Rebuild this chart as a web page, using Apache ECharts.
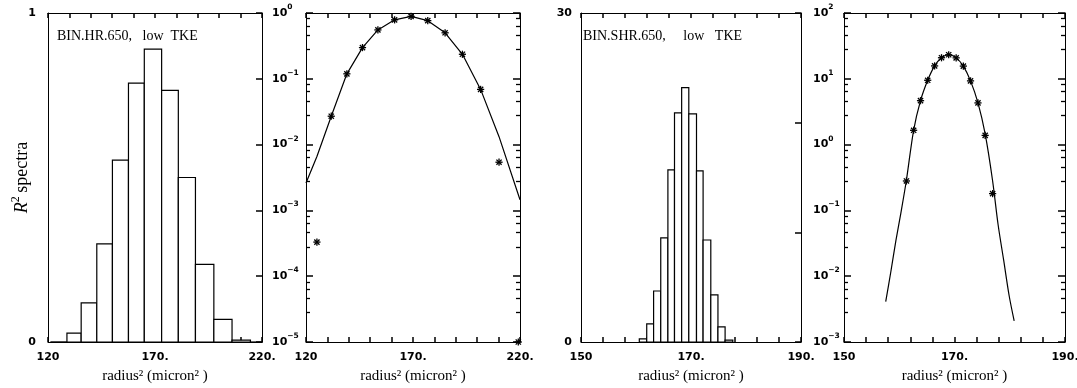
<!DOCTYPE html>
<html><head><meta charset="utf-8">
<script src="https://cdn.jsdelivr.net/npm/echarts@6/dist/echarts.min.js"></script>
<style>html,body{margin:0;padding:0;background:#fff}#c{width:1077px;height:388px}</style>
</head><body><div id="c"></div>
<script>
// ---------- DATA ----------
// BIN.HR.650 : histogram bin edges (radius^2) and normalized spectrum values
const hrEdges   = [121.4, 128.85, 135.5, 142.8, 150.1, 157.6, 165.0, 173.1, 180.9, 188.9, 197.5, 206.0, 214.6, 223.8];
const hrValues  = [0.00033, 0.027, 0.119, 0.298, 0.553, 0.787, 0.89, 0.765, 0.50, 0.236, 0.069, 0.0054, 0.00001];
const hrCenters = [125.1, 131.8, 139.1, 146.4, 153.6, 161.4, 169.1, 176.9, 185.0, 193.1, 201.6, 210.2, 219.2];
const hrCurveX  = [120, 125.1, 131.8, 139.1, 146.4, 153.6, 161.4, 169.1, 176.9, 185.0, 193.1, 201.6, 210.2, 220];
const hrCurveY  = [0.0026, 0.0066, 0.027, 0.119, 0.298, 0.553, 0.787, 0.89, 0.765, 0.50, 0.236, 0.069, 0.0132, 0.00145];

// BIN.SHR.650
const shrEdges   = [160.6, 161.95, 163.2, 164.5, 165.8, 167.0, 168.3, 169.6, 171.0, 172.2, 173.6, 174.9, 176.2, 177.6];
const shrValues  = [0.28, 1.65, 4.65, 9.5, 15.7, 20.9, 23.2, 20.8, 15.6, 9.3, 4.3, 1.38, 0.18];
const shrCenters = [161.3, 162.6, 163.85, 165.15, 166.4, 167.65, 168.95, 170.3, 171.6, 172.9, 174.25, 175.55, 176.9];
const shrCurveX  = [157.55, 158.5, 159.4, 160.3, 161.3, 162.6, 163.85, 165.15, 166.4, 167.65, 168.95, 170.3, 171.6, 172.9, 174.25, 175.55, 176.9, 177.9, 178.9, 179.9, 180.8];
const shrCurveY  = [0.0041, 0.012, 0.035, 0.092, 0.29, 1.65, 4.65, 9.5, 15.7, 20.9, 23.2, 20.8, 15.6, 9.3, 4.3, 1.45, 0.28, 0.06, 0.0175, 0.0050, 0.0021];

// tick labels
const hrXTicks   = [120, 170, 220];   const hrXLabels  = ['120', '170.', '220.'];
const shrXTicks  = [150, 170, 190];   const shrXLabels = ['150', '170.', '190.'];
const hrLinTicks = [0, 1];            const hrLinLabels = ['0', '1'];
const shrLinTicks = [0, 30];          const shrLinLabels = ['0', '30'];
const hrLogTicks = [1e-5, 1e-4, 1e-3, 1e-2, 1e-1, 1];  const hrLogExps  = ['−5', '−4', '−3', '−2', '−1', '0'];
const shrLogTicks = [1e-3, 1e-2, 1e-1, 1, 10, 100];    const shrLogExps = ['−3', '−2', '−1', '0', '1', '2'];

const panelTitles = ['BIN.HR.650,   low  TKE', 'BIN.SHR.650,     low   TKE'];
const xName = 'radius² (micron² )';

// ---------- HELPERS ----------
const K = '#000';
const TW = 1.5;   // tick line width
const tickFont = {color: K, fontFamily: 'DejaVu Sans', fontWeight: 'bold', fontSize: 11};
function pick(vals, labels) {
  return v => { for (let i = 0; i < vals.length; i++) if (Math.abs(v - vals[i]) <= Math.abs(vals[i]) * 1e-6 + 1e-12) return labels[i]; return ''; };
}
function xAxes(g, min, max, interval, tv, tl) {
  const line = {show: true, onZero: false, lineStyle: {color: K, width: 1}};
  return [
    {type: 'value', gridIndex: g, position: 'bottom', min, max, interval, axisLine: line,
     axisTick: {show: true, inside: true, length: 5, lineStyle: {color: K, width: TW}},
     axisLabel: {show: true, customValues: tv, formatter: pick(tv, tl), margin: 10, ...tickFont},
     splitLine: {show: false},
     name: xName, nameLocation: 'middle', nameGap: 27, nameMoveOverlap: false,
     nameTextStyle: {fontFamily: 'Liberation Serif', fontSize: 15, color: K}},
    {type: 'value', gridIndex: g, position: 'top', min, max, interval, axisLine: line,
     axisTick: {show: true, inside: true, length: 5, lineStyle: {color: K, width: TW}},
     axisLabel: {show: false}, splitLine: {show: false}}
  ];
}
function linYAxes(g, min, max, interval, tv, tl, margin, extra) {
  const line = {show: true, onZero: false, lineStyle: {color: K, width: 1}};
  return [
    Object.assign({type: 'value', gridIndex: g, position: 'left', min, max, interval, axisLine: line,
     axisTick: {show: false},
     axisLabel: {show: true, customValues: tv, formatter: pick(tv, tl), margin, ...tickFont},
     splitLine: {show: false}}, extra || {}),
    {type: 'value', gridIndex: g, position: 'right', min, max, interval, axisLine: line,
     axisTick: {show: true, inside: true, length: 6, lineStyle: {color: K, width: TW}},
     axisLabel: {show: false}, splitLine: {show: false}}
  ];
}
function logYAxes(g, min, max, tv, exps, margin) {
  const base = {type: 'log', logBase: 10, gridIndex: g, min, max, splitLine: {show: false},
    axisLine: {show: true, onZero: false, lineStyle: {color: K, width: 1}}};
  const fmt = v => '{b|10}{s|' + pick(tv, exps)(v) + '}';
  const rich = {
    b: {fontFamily: 'DejaVu Sans', fontWeight: 'bold', fontSize: 11, color: K, lineHeight: 20, verticalAlign: 'middle'},
    s: {fontFamily: 'DejaVu Sans', fontWeight: 'bold', fontSize: 7.5, color: K, lineHeight: 20, verticalAlign: 'top'}
  };
  const tick = {show: true, inside: true, length: 7, customValues: tv, lineStyle: {color: K, width: TW}};
  const minor = {show: true, length: 4, lineStyle: {color: K, width: 1.3}};
  return [
    Object.assign({}, base, {position: 'left', axisTick: tick, minorTick: minor,
      axisLabel: {show: true, customValues: tv, formatter: fmt, align: 'left', margin, rich}}),
    Object.assign({}, base, {position: 'right', axisTick: tick, minorTick: minor, axisLabel: {show: false}})
  ];
}
function histSeries(xi, yi, edges, vals) {
  return {
    type: 'custom', xAxisIndex: xi, yAxisIndex: yi,
    data: vals.map((v, i) => [edges[i], edges[i + 1], v]),
    renderItem(params, api) {
      const p0 = api.coord([api.value(0), 0]);
      const p1 = api.coord([api.value(1), api.value(2)]);
      const cs = params.coordSys;
      const shape = echarts.graphic.clipRectByRect(
        {x: p0[0], y: p1[1], width: p1[0] - p0[0], height: p0[1] - p1[1]},
        {x: cs.x, y: cs.y, width: cs.width, height: cs.height});
      if (!shape) return null;
      return {type: 'rect', shape, style: {fill: '#fff', stroke: K, lineWidth: 1.2}};
    }
  };
}
function starSeries(xi, yi, xs, ys) {
  return {
    type: 'custom', xAxisIndex: xi, yAxisIndex: yi, z: 5,
    data: xs.map((x, i) => [x, ys[i]]),
    renderItem(params, api) {
      const p = api.coord([api.value(0), api.value(1)]);
      const r = 3.6, d = 2.6;
      const st = {stroke: K, lineWidth: 1.3};
      return {type: 'group', children: [
        {type: 'line', shape: {x1: p[0] - r, y1: p[1], x2: p[0] + r, y2: p[1]}, style: st},
        {type: 'line', shape: {x1: p[0], y1: p[1] - r, x2: p[0], y2: p[1] + r}, style: st},
        {type: 'line', shape: {x1: p[0] - d, y1: p[1] - d, x2: p[0] + d, y2: p[1] + d}, style: st},
        {type: 'line', shape: {x1: p[0] - d, y1: p[1] + d, x2: p[0] + d, y2: p[1] - d}, style: st}
      ]};
    }
  };
}

// ---------- OPTION ----------
const grids = [
  {left: 48,  top: 13, width: 214, height: 329},
  {left: 306, top: 13, width: 214, height: 329},
  {left: 581, top: 13, width: 220, height: 329},
  {left: 844, top: 13, width: 221, height: 329}
].map(g => Object.assign(g, {containLabel: false, outerBoundsMode: 'none'}));

const yName = {
  name: '{i|R}{s|2} {n|spectra}', nameLocation: 'middle', nameGap: 14, nameMoveOverlap: false,
  nameTextStyle: {rich: {
    i: {fontFamily: 'Liberation Serif', fontStyle: 'italic', fontSize: 18, color: K, lineHeight: 24, verticalAlign: 'middle'},
    s: {fontFamily: 'Liberation Serif', fontSize: 12, color: K, lineHeight: 24, verticalAlign: 'top'},
    n: {fontFamily: 'Liberation Serif', fontSize: 18, color: K, lineHeight: 24, verticalAlign: 'middle'}
  }}
};

const option = {
  animation: false,
  backgroundColor: '#fff',
  grid: grids,
  xAxis: [].concat(
    xAxes(0, 120, 220, 10, hrXTicks, hrXLabels),   // 0,1
    xAxes(1, 120, 220, 10, hrXTicks, hrXLabels),   // 2,3
    xAxes(2, 150, 190, 4, shrXTicks, shrXLabels),  // 4,5
    xAxes(3, 150, 190, 4, shrXTicks, shrXLabels)   // 6,7
  ),
  yAxis: [].concat(
    linYAxes(0, 0, 1, 0.2, hrLinTicks, hrLinLabels, 12, yName),   // 0,1
    logYAxes(1, 1e-5, 1, hrLogTicks, hrLogExps, 34),              // 2,3
    linYAxes(2, 0, 30, 10, shrLinTicks, shrLinLabels, 9),         // 4,5
    logYAxes(3, 1e-3, 100, shrLogTicks, shrLogExps, 31)           // 6,7
  ),
  series: [
    histSeries(0, 0, hrEdges, hrValues),
    {type: 'line', xAxisIndex: 2, yAxisIndex: 2, data: hrCurveX.map((x, i) => [x, hrCurveY[i]]),
     showSymbol: false, symbol: 'none', lineStyle: {color: K, width: 1.2}},
    starSeries(2, 2, hrCenters, hrValues),
    histSeries(4, 4, shrEdges, shrValues),
    {type: 'line', xAxisIndex: 6, yAxisIndex: 6, data: shrCurveX.map((x, i) => [x, shrCurveY[i]]),
     showSymbol: false, symbol: 'none', smooth: 0.3, lineStyle: {color: K, width: 1.2}},
    starSeries(6, 6, shrCenters, shrValues)
  ],
  graphic: [
    {type: 'text', x: 57, y: 36, z: 10, style: {text: panelTitles[0], fontFamily: 'Liberation Serif', fontSize: 14, fill: K, verticalAlign: 'middle'}},
    {type: 'text', x: 583, y: 36, z: 10, style: {text: panelTitles[1], fontFamily: 'Liberation Serif', fontSize: 14, fill: K, verticalAlign: 'middle'}}
  ]
};
const chart = echarts.init(document.getElementById('c'), null, {renderer: 'canvas'});
chart.setOption(option);
</script>
</body></html>
